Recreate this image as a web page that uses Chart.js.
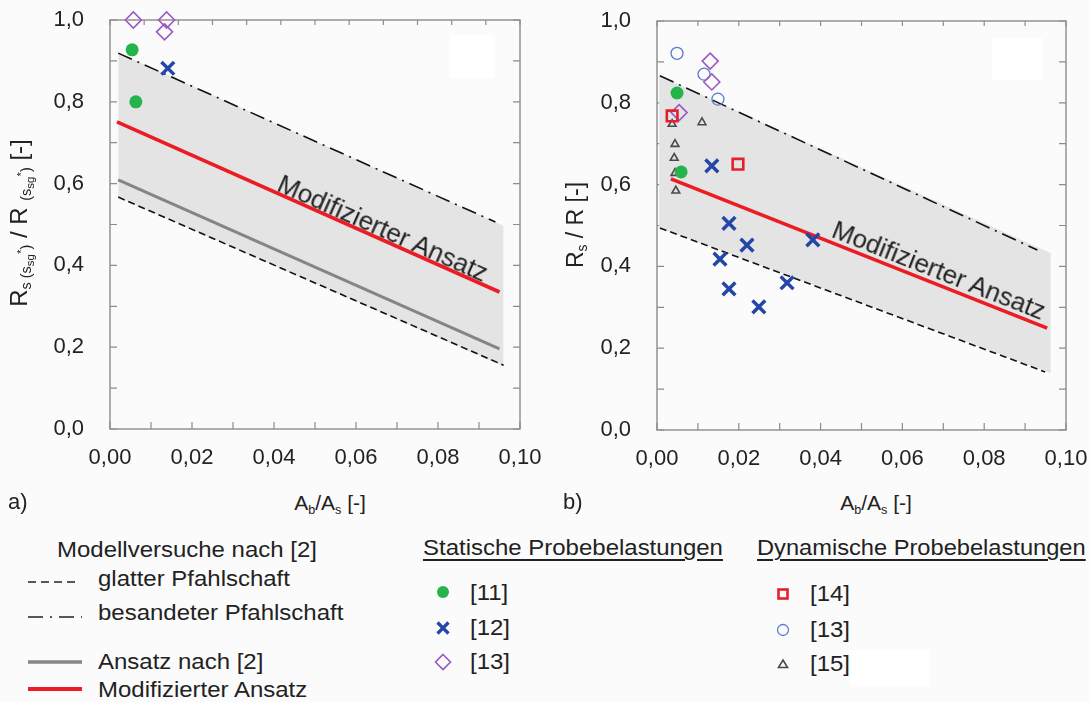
<!DOCTYPE html>
<html><head><meta charset="utf-8">
<script src="https://cdn.jsdelivr.net/npm/chart.js@4.4.1/dist/chart.umd.min.js"></script>
<style>
body{margin:0;background:#fbfbfb;}
#wrap{position:relative;width:1089px;height:702px;overflow:hidden;font-family:'Liberation Sans',Arial,sans-serif;color:#222;}
.t{position:absolute;white-space:nowrap;line-height:1;}
.rot{position:absolute;white-space:nowrap;line-height:1;transform-origin:50% 50%;}
canvas{position:absolute;top:0;}
.sb{font-size:0.6em;vertical-align:-0.3em;}
.sb2{font-size:0.8em;vertical-align:-0.25em;}
.sp2{font-size:0.8em;vertical-align:0.5em;}
.wr{position:absolute;background:#fff;}
svg{position:absolute;overflow:visible;}
</style>
</head><body>
<div id="wrap">
<div class="wr" style="left:450px;top:35px;width:45px;height:43px"></div>
<div class="wr" style="left:992px;top:38px;width:51px;height:42px"></div>
<div class="wr" style="left:850px;top:650px;width:80px;height:37px"></div>
<canvas id="c1" width="545" height="480" style="left:0px"></canvas>
<canvas id="c2" width="544" height="480" style="left:545px"></canvas>
</div>
<script>
// ---------- DATA ----------
const xTickValues = [0, 0.02, 0.04, 0.06, 0.08, 0.10];
const xTickLabels = ['0,00', '0,02', '0,04', '0,06', '0,08', '0,10'];
const yTickValues = [0, 0.2, 0.4, 0.6, 0.8, 1.0];
const yTickLabels = ['0,0', '0,2', '0,4', '0,6', '0,8', '1,0'];

// a) left chart
const aBandX = [0.002, 0.096];
const aBandLow = [0.567, 0.153];
const aBandHigh = [0.920, 0.497];
const aGlattX = [0.002, 0.096], aGlattY = [0.567, 0.156];
const aBesandX = [0.002, 0.094], aBesandY = [0.919, 0.506];
const aAnsatzX = [0.002, 0.095], aAnsatzY = [0.609, 0.196];
const aModX = [0.0017, 0.095], aModY = [0.751, 0.335];
const a11X = [0.0054, 0.0063], a11Y = [0.927, 0.800];
const a12X = [0.0141], a12Y = [0.882];
const a13X = [0.0057, 0.0138, 0.0133], a13Y = [1.0, 1.0, 0.971];

// b) right chart
const bBandX = [0.0005, 0.0963];
const bBandLow = [0.495, 0.139];
const bBandHigh = [0.867, 0.432];
const bBesandX = [0.0007, 0.093], bBesandY = [0.866, 0.440];
const bGlattX = [0.0007, 0.0949], bGlattY = [0.494, 0.142];
const bModX = [0.0034, 0.0954], bModY = [0.614, 0.249];
const b11X = [0.0049, 0.0059], b11Y = [0.824, 0.631];
const b12X = [0.0134, 0.0176, 0.0154, 0.0176, 0.0220, 0.0249, 0.0318, 0.0381];
const b12Y = [0.646, 0.505, 0.418, 0.345, 0.452, 0.301, 0.360, 0.465];
const b13sX = [0.0130, 0.0134, 0.0054], b13sY = [0.902, 0.851, 0.776];
const b14X = [0.0037, 0.0198], b14Y = [0.768, 0.650];
const b13dX = [0.0049, 0.0115, 0.0149], b13dY = [0.921, 0.870, 0.809];
const b15X = [0.0037, 0.0110, 0.0044, 0.0042, 0.0044, 0.0046];
const b15Y = [0.748, 0.752, 0.699, 0.665, 0.628, 0.585];

// ---------- HELPERS ----------
const pts = (xs, ys) => xs.map((x, i) => ({x, y: ys[i]}));
const FONT = "'Liberation Sans', Arial, sans-serif";
const C = {
  red: '#ec1c24', gray: '#858585', band: '#e4e4e4', black: '#111',
  green: '#25b34b', blue: '#2446a8', purple: '#9a58c2', sq: '#e3202b', circ: '#5a7cd0', tri: '#4a4a4a', frame: '#8c8c8c'
};
function lineDs(data, color, width, dash, order) {
  return {data, showLine: true, borderColor: color, borderWidth: width, borderDash: dash || [],
    pointRadius: 0, fill: false, order, clip: false, borderCapStyle: 'butt'};
}
function markDs(data, style, r, fillC, strokeC, bw) {
  return {data, showLine: false, pointStyle: style, pointRadius: r, backgroundColor: fillC,
    borderColor: strokeC, borderWidth: bw, order: 0, clip: false};
}
const framePlugin = {
  id: 'frame',
  beforeDatasetsDraw(chart) {
    const {ctx, chartArea: a, scales} = chart;
    ctx.save();
    ctx.strokeStyle = C.frame; ctx.lineWidth = 1.4;
    ctx.strokeRect(a.left, a.top, a.right - a.left, a.bottom - a.top);
    ctx.lineWidth = 1.2;
    const L = 7;
    ctx.beginPath();
    for (let i = 0; i <= 10; i++) {
      const px = scales.x.getPixelForValue(i / 100);
      ctx.moveTo(px, a.bottom); ctx.lineTo(px, a.bottom - L);
    }
    const tmax = scales.xt.max;
    for (let i = 0; i <= Math.round(tmax * 100); i++) {
      const px = scales.xt.getPixelForValue(i / 100);
      ctx.moveTo(px, a.top); ctx.lineTo(px, a.top + L - 2);
    }
    for (let i = 0; i <= 10; i++) {
      const py = scales.y.getPixelForValue(i / 10);
      ctx.moveTo(a.left, py); ctx.lineTo(a.left + L, py);
      ctx.moveTo(a.right, py); ctx.lineTo(a.right - L, py);
    }
    ctx.stroke();
    ctx.restore();
  }
};
function buildChart(id, o) {
  return new Chart(document.getElementById(id), {
    type: 'scatter',
    data: {datasets: o.datasets},
    options: {
      responsive: false, animation: false, devicePixelRatio: 1, events: [],
      layout: {padding: {top: o.padTop, right: o.padRight, left: 0, bottom: 0}},
      plugins: {legend: {display: false}, tooltip: {enabled: false}},
      scales: {
        x: {type: 'linear', min: 0, max: 0.1, position: 'bottom',
          afterBuildTicks: s => { s.ticks = xTickValues.map(v => ({value: v})); },
          ticks: {callback: (v, i) => xTickLabels[i], font: {family: FONT, size: 22}, color: '#222',
            padding: 8, maxRotation: 0, autoSkip: false},
          grid: {display: false}, border: {display: false},
          afterFit: s => { s.height = o.xH; s.paddingLeft = 0; s.paddingRight = 0; }},
        y: {type: 'linear', min: 0, max: 1, position: 'left',
          afterBuildTicks: s => { s.ticks = yTickValues.map(v => ({value: v})); },
          ticks: {callback: (v, i) => yTickLabels[i], font: {family: FONT, size: 22}, color: '#222',
            padding: o.yPad, autoSkip: false},
          grid: {display: false}, border: {display: false},
          afterFit: s => { s.width = o.yW; s.paddingTop = 0; s.paddingBottom = 0; }},
        xt: {type: 'linear', display: false, min: 0, max: o.topMax, position: 'top',
          grid: {display: false}, ticks: {display: false}, border: {display: false},
          afterFit: s => { s.height = 0; s.paddingLeft = 0; s.paddingRight = 0; }}
      }
    },
    plugins: [framePlugin]
  });
}

// ---------- CHART a) ----------
buildChart('c1', {
  padTop: 20, padRight: 25, xH: 51, yW: 110, yPad: 18, topMax: 0.12,
  datasets: [
    markDs(pts(a13X, a13Y), 'rectRot', 8, 'rgba(0,0,0,0)', C.purple, 1.6),
    markDs(pts(a12X, a12Y), 'crossRot', 9, C.blue, C.blue, 3.5),
    markDs(pts(a11X, a11Y), 'circle', 6.5, C.green, C.green, 0),
    lineDs(pts(aModX, aModY), C.red, 3.6, [], 4),
    lineDs(pts(aAnsatzX, aAnsatzY), C.gray, 3, [], 5),
    lineDs(pts(aBesandX, aBesandY), C.black, 1.6, [15, 6, 2, 6], 6),
    lineDs(pts(aGlattX, aGlattY), C.black, 1.6, [7, 4], 7),
    {data: pts(aBandX, aBandLow), showLine: true, borderWidth: 0, pointRadius: 0, fill: false, order: 20},
    {data: pts(aBandX, aBandHigh), showLine: true, borderWidth: 0, pointRadius: 0, fill: '-1', backgroundColor: C.band, order: 19}
  ]
});

// ---------- CHART b) ----------
buildChart('c2', {
  padTop: 21, padRight: 23, xH: 50, yW: 112, yPad: 18, topMax: 0.10,
  datasets: [
    markDs(pts(b12X, b12Y), 'crossRot', 9, C.blue, C.blue, 3.5),
    markDs(pts(b11X, b11Y), 'circle', 6.5, C.green, C.green, 0),
    markDs(pts(b14X, b14Y), 'rect', 7.5, 'rgba(0,0,0,0)', C.sq, 2.6),
    markDs(pts(b13sX, b13sY), 'rectRot', 8, 'rgba(0,0,0,0)', C.purple, 1.6),
    markDs(pts(b13dX, b13dY), 'circle', 6, 'rgba(0,0,0,0)', C.circ, 1.3),
    markDs(pts(b15X, b15Y), 'triangle', 4.5, 'rgba(0,0,0,0)', C.tri, 1.6),
    lineDs(pts(bModX, bModY), C.red, 3.6, [], 4),
    lineDs(pts(bBesandX, bBesandY), C.black, 1.6, [15, 6, 2, 6], 6),
    lineDs(pts(bGlattX, bGlattY), C.black, 1.6, [7, 4], 7),
    {data: pts(bBandX, bBandLow), showLine: true, borderWidth: 0, pointRadius: 0, fill: false, order: 20},
    {data: pts(bBandX, bBandHigh), showLine: true, borderWidth: 0, pointRadius: 0, fill: '-1', backgroundColor: C.band, order: 19}
  ]
});

// ---------- TEXT OVERLAYS ----------
const wrap = document.getElementById('wrap');
function txt(html, x, cy, fs, extra) {
  const d = document.createElement('div');
  d.className = 't'; d.innerHTML = html;
  d.style.left = x + 'px'; d.style.top = (cy - fs * 0.5) + 'px'; d.style.fontSize = fs + 'px';
  if (extra) Object.assign(d.style, extra);
  wrap.appendChild(d); return d;
}
function rot(html, cx, cy, fs, deg) {
  const d = document.createElement('div');
  d.className = 'rot'; d.innerHTML = html; d.style.fontSize = fs + 'px';
  d.style.left = cx + 'px'; d.style.top = cy + 'px';
  d.style.transform = 'translate(-50%,-50%) rotate(' + deg + 'deg)';
  wrap.appendChild(d); return d;
}
function svg(x, y, w, h, inner) {
  const s = document.createElementNS('http://www.w3.org/2000/svg', 'svg');
  s.setAttribute('width', w); s.setAttribute('height', h);
  s.style.left = x + 'px'; s.style.top = y + 'px';
  s.innerHTML = inner; wrap.appendChild(s); return s;
}
const sgStar = '(s<span class="sb2">sg</span><span class="sp2">*</span>)';
rot('R<span class="sb">s ' + sgStar + '</span> / R <span class="sb">' + sgStar + '</span> [-]', 22, 223, 24, -90);
rot('R<span class="sb">s</span> / R [-]', 577, 225, 23, -90);
const AX = {transform: 'translateX(-50%)'};
txt('A<span class="sb">b</span>/A<span class="sb">s</span> [-]', 330, 502, 21, AX);
txt('A<span class="sb">b</span>/A<span class="sb">s</span> [-]', 876, 502, 21, AX);
txt('a)', 8, 502, 22);
txt('b)', 563, 502, 22);
rot('Modifizierter Ansatz', 383, 228, 26, 23.9);
rot('Modifizierter Ansatz', 939, 270, 26, 21.6);

// Legend
const LF = 22;
const SX = {transform: 'scaleX(1.09)', transformOrigin: '0 50%'};
const SXU = {transform: 'scaleX(1.09)', transformOrigin: '0 50%', textDecoration: 'underline', textUnderlineOffset: '4px'};
const SXU2 = {transform: 'scaleX(1.075)', transformOrigin: '0 50%', textDecoration: 'underline', textUnderlineOffset: '4px'};
txt('Modellversuche nach [2]', 57, 550, LF, SX);
svg(28, 577, 54, 10, '<line x1="0" y1="5" x2="52" y2="5" stroke="#222" stroke-width="1.6" stroke-dasharray="8 5"/>');
txt('glatter Pfahlschaft', 98, 579, LF, SX);
svg(28, 612, 54, 10, '<line x1="0" y1="5" x2="54" y2="5" stroke="#222" stroke-width="1.6" stroke-dasharray="15 7 2 7"/>');
txt('besandeter Pfahlschaft', 98, 613, LF, SX);
svg(28, 657, 56, 10, '<line x1="0" y1="5" x2="54" y2="5" stroke="' + C.gray + '" stroke-width="3.5"/>');
txt('Ansatz nach [2]', 98, 662, LF, SX);
svg(28, 684, 56, 10, '<line x1="0" y1="5" x2="54" y2="5" stroke="' + C.red + '" stroke-width="4"/>');
txt('Modifizierter Ansatz', 98, 690, LF, SX);

txt('Statische Probebelastungen', 423, 548, LF, SXU);
svg(433, 582, 20, 20, '<circle cx="10" cy="10" r="6" fill="' + C.green + '"/>');
txt('[11]', 470, 593, LF, SX);
svg(433, 618, 20, 20, '<path d="M4.5 4.5L15.5 15.5M15.5 4.5L4.5 15.5" stroke="' + C.blue + '" stroke-width="3.2"/>');
txt('[12]', 470, 628, LF, SX);
svg(433, 652, 20, 20, '<path d="M10 2.5L17.5 10L10 17.5L2.5 10Z" fill="none" stroke="' + C.purple + '" stroke-width="1.6"/>');
txt('[13]', 470, 662, LF, SX);

txt('Dynamische Probebelastungen', 757, 548, LF, SXU2);
svg(773, 584, 20, 20, '<rect x="5.5" y="5.5" width="9" height="9" fill="none" stroke="' + C.sq + '" stroke-width="2.6"/>');
txt('[14]', 810, 594, LF, SX);
svg(773, 620, 20, 20, '<circle cx="10" cy="10" r="5.5" fill="none" stroke="' + C.circ + '" stroke-width="1.3"/>');
txt('[13]', 810, 630, LF, SX);
svg(773, 654, 20, 20, '<path d="M10 6L14.5 13.5L5.5 13.5Z" fill="none" stroke="' + C.tri + '" stroke-width="1.6"/>');
txt('[15]', 810, 664, LF, SX);
</script>
</body></html>
